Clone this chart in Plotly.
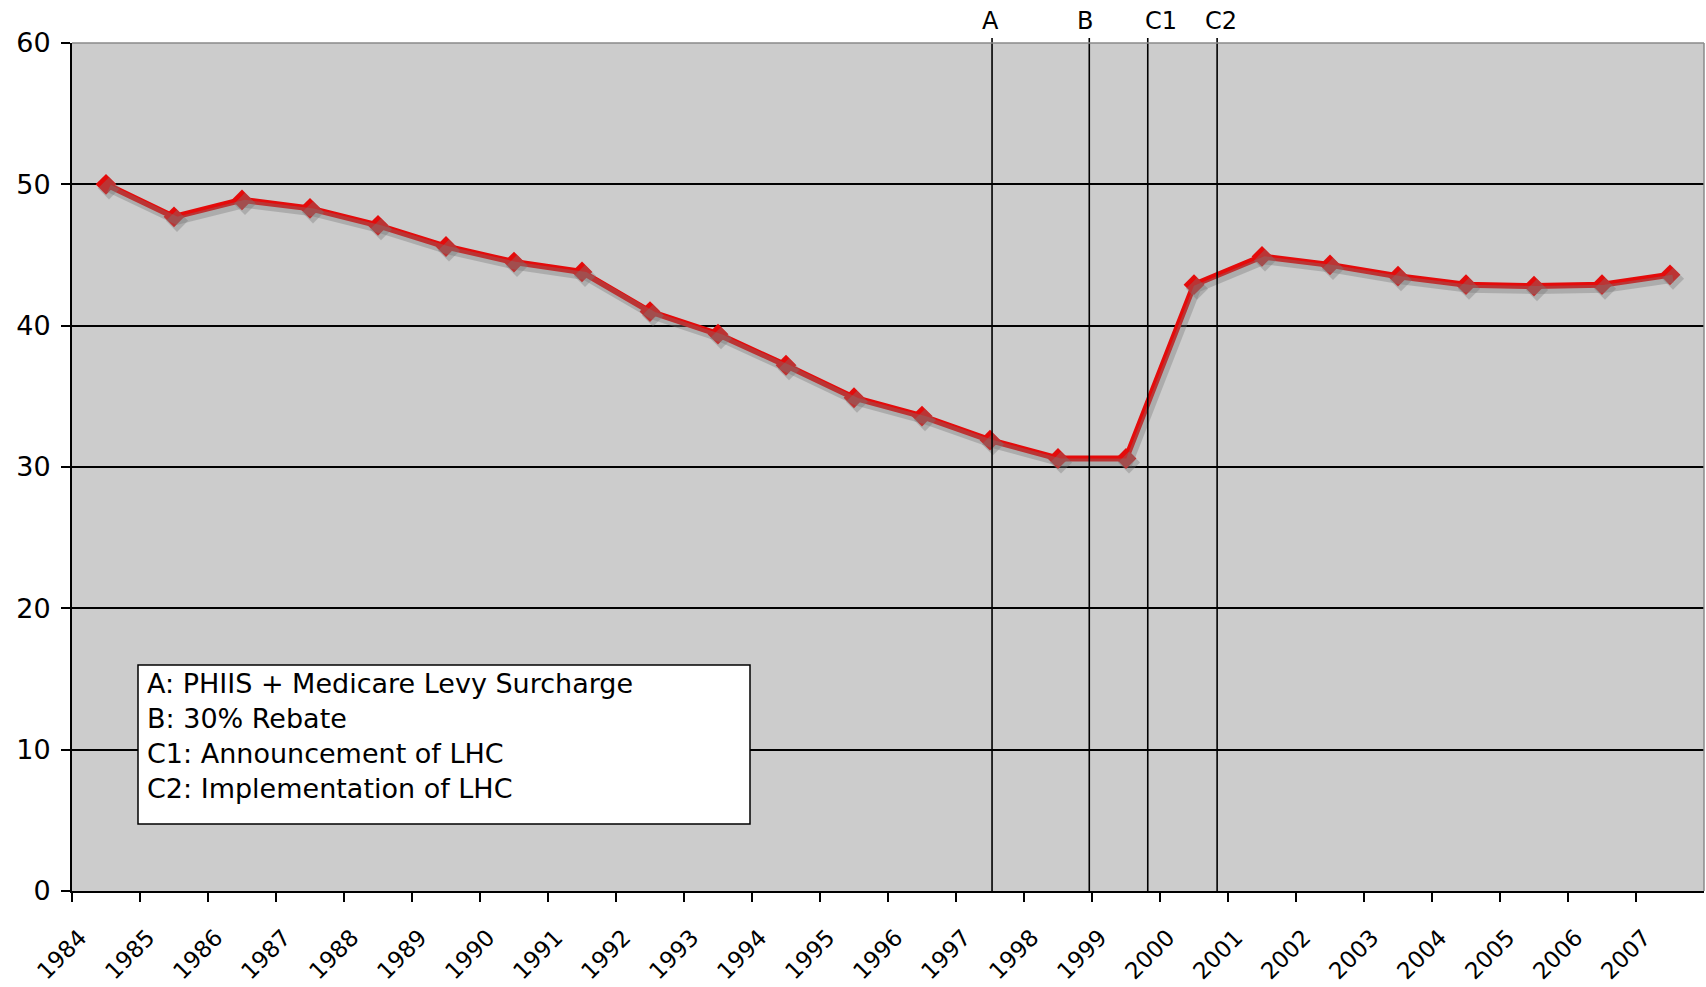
import plotly.graph_objects as go

# ---- data ----
years = list(range(1984, 2008))
coverage = [50.0, 47.7, 48.9, 48.3, 47.1, 45.6, 44.5, 43.8, 41.0, 39.4, 37.2, 34.9,
            33.6, 31.9, 30.6, 30.6, 42.9, 44.9, 44.3, 43.5, 42.9, 42.8, 42.9, 43.6]
tick_labels = [str(y) for y in years]
y_ticks = [0, 10, 20, 30, 40, 50, 60]

event_names = ["A", "B", "C1", "C2"]
event_dates = [1997.53, 1998.96, 1999.82, 2000.84]
event_label_x = [1997.50, 1998.90, 2000.01, 2000.89]

legend_lines = [
    "A: PHIIS + Medicare Levy Surcharge",
    "B: 30% Rebate",
    "C1: Announcement of LHC",
    "C2: Implementation of LHC",
]

FONT = "DejaVu Sans"
W, H = 1706, 987
ML, MR, MT, MB = 72, 2, 43, 96
plot_w = W - ML - MR
plot_h = H - MT - MB

x0, x1 = 1984, 2008
y0, y1 = 0, 60
xpos = [y + 0.5 for y in years]

# shadow offset (pixels -> data units)
dx = 3 * (x1 - x0) / plot_w
dy = 4 * (y1 - y0) / plot_h

fig = go.Figure()

# shadow
fig.add_trace(go.Scatter(
    x=xpos, y=coverage, xaxis="x2", yaxis="y2", mode="lines+markers",
    line=dict(color="rgba(120,120,120,0.38)", width=8),
    marker=dict(symbol="diamond", size=17, color="rgba(120,120,120,0.38)"),
    hoverinfo="skip", showlegend=False,
))
# main series
fig.add_trace(go.Scatter(
    x=xpos, y=coverage, mode="lines+markers",
    line=dict(color="#e40b0b", width=6),
    marker=dict(symbol="diamond", size=16, color="#e40b0b"),
    showlegend=False,
))

shapes = []
# event lines
for d in event_dates:
    shapes.append(dict(type="line", xref="x", yref="paper", x0=d, x1=d,
                       y0=0, y1=1 + 5 / plot_h,
                       line=dict(color="black", width=1.6), layer="above"))
# frame top/right (gray)
shapes.append(dict(type="line", xref="paper", yref="paper", x0=0, x1=1, y0=1, y1=1,
                   line=dict(color="#8a8a8a", width=1.5), layer="above"))
shapes.append(dict(type="line", xref="paper", yref="paper", x0=1, x1=1, y0=0, y1=1,
                   line=dict(color="#8a8a8a", width=1.5), layer="above"))


def px_to_x(px):
    return x0 + (px - ML) * (x1 - x0) / plot_w


def py_to_y(py):
    return y0 + (MT + plot_h - py) * (y1 - y0) / plot_h


# legend box
shapes.append(dict(type="rect", xref="x", yref="y",
                   x0=px_to_x(138), x1=px_to_x(750), y0=py_to_y(824), y1=py_to_y(665),
                   fillcolor="white", line=dict(color="black", width=1.5), layer="above"))

annotations = []
for name, lx in zip(event_names, event_label_x):
    annotations.append(dict(x=lx, xref="x", y=1 + 22 / plot_h, yref="paper",
                            text=name, showarrow=False, xanchor="center", yanchor="middle",
                            font=dict(family=FONT, size=24, color="black")))
for i, t in enumerate(legend_lines):
    annotations.append(dict(x=px_to_x(145), xref="x", y=py_to_y(683 + 35 * i), yref="y",
                            text=t, showarrow=False, xanchor="left", yanchor="middle",
                            font=dict(family=FONT, size=27, color="black")))

fig.update_layout(
    width=W, height=H,
    margin=dict(l=ML, r=MR, t=MT, b=MB, pad=0, autoexpand=False),
    paper_bgcolor="white", plot_bgcolor="#cccccc",
    font=dict(family=FONT, size=25, color="black"),
    xaxis=dict(range=[x0, x1], tickvals=years, ticktext=tick_labels, tickangle=-45,
               ticks="outside", ticklen=9, tickwidth=1.5, tickcolor="black",
               showline=True, linecolor="black", linewidth=2, showgrid=False,
               zeroline=False, tickfont=dict(family=FONT, size=23),
               ticklabelshift=8, ticklabelstandoff=13, automargin=False),
    yaxis=dict(range=[y0, y1], tickvals=y_ticks, ticks="outside", ticklen=9,
               tickwidth=1.5, tickcolor="black", showline=True, linecolor="black",
               linewidth=2, showgrid=True, gridcolor="black", gridwidth=1.7,
               zeroline=False, tickfont=dict(family=FONT, size=27),
               ticklabelstandoff=5, automargin=False),
    xaxis2=dict(range=[x0 - dx, x1 - dx], overlaying="x", visible=False),
    yaxis2=dict(range=[y0 + dy, y1 + dy], overlaying="y", visible=False),
    shapes=shapes, annotations=annotations,
)

fig.write_html("out.html", config={"displayModeBar": False},
               post_script="document.body.style.margin='0';document.body.style.overflow='hidden';")
